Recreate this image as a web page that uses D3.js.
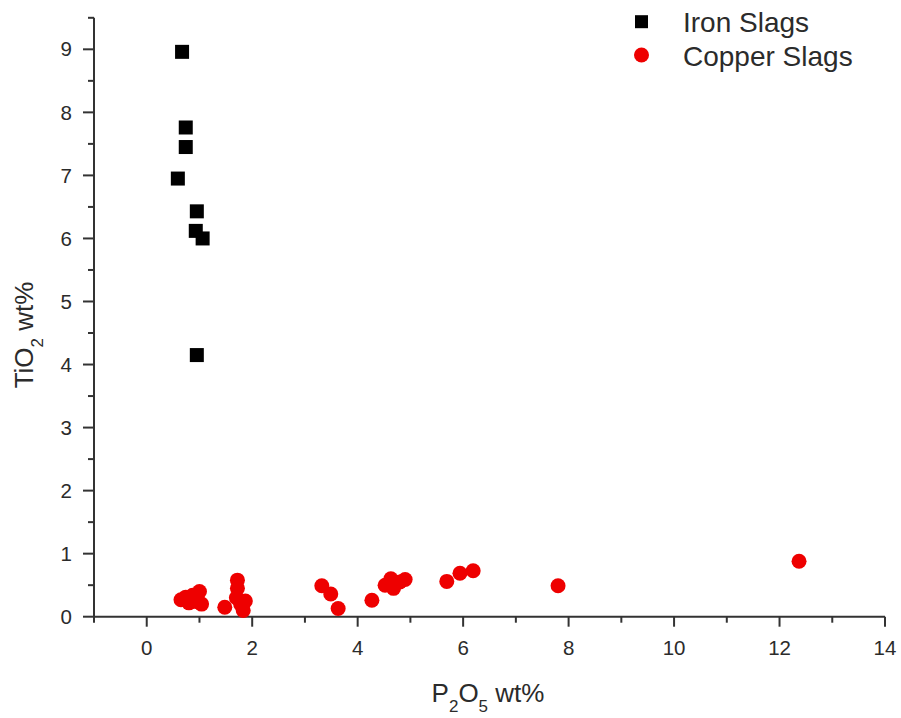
<!DOCTYPE html>
<html lang="en">
<head>
<meta charset="utf-8">
<title>TiO2 vs P2O5</title>
<script src="https://d3js.org/d3.v7.min.js"></script>
<style>
  body { margin: 0; background: #fff; }
  text { font-family: "Liberation Sans", Arial, sans-serif; fill: #2b2b2b; }
</style>
</head>
<body>
<script>
// data
var ironP2O5 = [0.67, 0.74, 0.74, 0.59, 0.95, 0.93, 1.06, 0.95];
var ironTiO2 = [8.96, 7.76, 7.45, 6.95, 6.43, 6.12, 6.00, 4.15];

var copperP2O5 = [0.65, 0.74, 0.80, 0.87, 0.93, 1.00, 1.04,
                  1.48, 1.72, 1.72, 1.70, 1.87, 1.83, 1.78,
                  3.32, 3.49, 3.63, 4.27, 4.52, 4.63, 4.68, 4.80, 4.90,
                  5.69, 5.94, 6.19, 7.80, 12.37];
var copperTiO2 = [0.27, 0.31, 0.22, 0.34, 0.24, 0.40, 0.20,
                  0.15, 0.58, 0.45, 0.30, 0.25, 0.10, 0.20,
                  0.49, 0.36, 0.13, 0.26, 0.50, 0.60, 0.45, 0.55, 0.59,
                  0.56, 0.69, 0.73, 0.49, 0.88];

var xTickLabels = [0, 2, 4, 6, 8, 10, 12, 14];
var yTickLabels = [0, 1, 2, 3, 4, 5, 6, 7, 8, 9];
var seriesNames = ["Iron Slags", "Copper Slags"];

var w = 901, h = 718;
var axisColor = "#333";

var xScale = d3.scaleLinear().domain([-1, 14]).range([94, 885]);
var yScale = d3.scaleLinear().domain([0, 9.5]).range([616.7, 17.8]);

var svg = d3.select("body").append("svg").attr("width", w).attr("height", h);

// x axis: minor ticks every 1, labels every 2
var xMinor = d3.range(-1, 14.01, 1);
var gx = svg.append("g").attr("transform", "translate(0," + yScale(0) + ")");
gx.append("line").attr("x1", xScale(-1)).attr("x2", xScale(14))
  .attr("stroke", axisColor).attr("stroke-width", 2);
gx.selectAll(".tk").data(xMinor).enter().append("line")
  .attr("x1", function(d) { return xScale(d); })
  .attr("x2", function(d) { return xScale(d); })
  .attr("y1", 0)
  .attr("y2", function(d) { return xTickLabels.indexOf(d) >= 0 ? 10 : 6; })
  .attr("stroke", axisColor).attr("stroke-width", 2);
gx.selectAll(".lb").data(xTickLabels).enter().append("text")
  .attr("x", function(d) { return xScale(d); })
  .attr("y", 38)
  .attr("text-anchor", "middle")
  .attr("font-size", 20.5)
  .text(function(d) { return d; });

// y axis: minor ticks every 0.5
var yMinor = d3.range(0, 9.51, 0.5);
var gy = svg.append("g").attr("transform", "translate(" + xScale(-1) + ",0)");
gy.append("line").attr("y1", yScale(0)).attr("y2", yScale(9.5))
  .attr("stroke", axisColor).attr("stroke-width", 2);
gy.selectAll(".tk").data(yMinor).enter().append("line")
  .attr("y1", function(d) { return yScale(d); })
  .attr("y2", function(d) { return yScale(d); })
  .attr("x1", 0)
  .attr("x2", function(d) { return d % 1 === 0 ? -11 : -6; })
  .attr("stroke", axisColor).attr("stroke-width", 2);
gy.selectAll(".lb").data(yTickLabels).enter().append("text")
  .attr("x", -22)
  .attr("y", function(d) { return yScale(d); })
  .attr("dy", "0.35em")
  .attr("text-anchor", "end")
  .attr("font-size", 20.5)
  .text(function(d) { return d; });

// axis titles
var xt = svg.append("text").attr("x", 488).attr("y", 702)
  .attr("text-anchor", "middle").attr("font-size", 26);
xt.append("tspan").text("P");
xt.append("tspan").attr("font-size", 17).attr("dy", 10).text("2");
xt.append("tspan").attr("dy", -10).text("O");
xt.append("tspan").attr("font-size", 17).attr("dy", 10).text("5");
xt.append("tspan").attr("dy", -10).text(" wt%");

var yt = svg.append("text")
  .attr("transform", "translate(33,335) rotate(-90)")
  .attr("text-anchor", "middle").attr("font-size", 26);
yt.append("tspan").text("TiO");
yt.append("tspan").attr("font-size", 17).attr("dy", 10).text("2");
yt.append("tspan").attr("dy", -10).text(" wt%");

// points
var ironData = ironP2O5.map(function(v, i) { return {x: v, y: ironTiO2[i]}; });
var copperData = copperP2O5.map(function(v, i) { return {x: v, y: copperTiO2[i]}; });
var sq = 14;

svg.append("g").selectAll("rect").data(ironData).enter().append("rect")
  .attr("x", function(d) { return xScale(d.x) - sq / 2; })
  .attr("y", function(d) { return yScale(d.y) - sq / 2; })
  .attr("width", sq).attr("height", sq)
  .attr("fill", "#000");

svg.append("g").selectAll("circle").data(copperData).enter().append("circle")
  .attr("cx", function(d) { return xScale(d.x); })
  .attr("cy", function(d) { return yScale(d.y); })
  .attr("r", 7.5)
  .attr("fill", "#ee0000");

// legend
var lg = svg.append("g");
lg.append("rect").attr("x", 641.5 - 6.5).attr("y", 21.7 - 6.5)
  .attr("width", 13).attr("height", 13).attr("fill", "#000");
lg.append("circle").attr("cx", 641.5).attr("cy", 55).attr("r", 7.5).attr("fill", "#ee0000");
lg.selectAll("text").data(seriesNames).enter().append("text")
  .attr("x", 683)
  .attr("y", function(d, i) { return 32 + i * 34; })
  .attr("font-size", 28)
  .text(function(d) { return d; });
</script>
</body>
</html>
